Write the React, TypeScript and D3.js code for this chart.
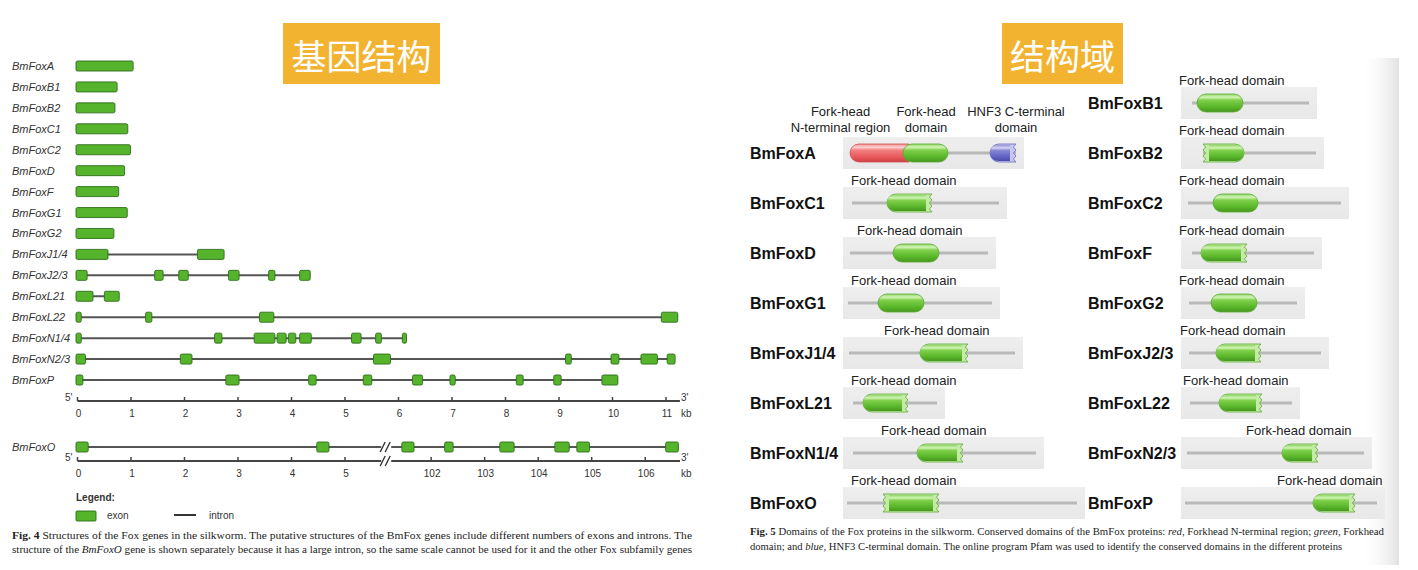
import React from "react";
import * as d3 from "d3";

// ---------------- DATA ----------------
const geneNames = [
  "BmFoxA", "BmFoxB1", "BmFoxB2", "BmFoxC1", "BmFoxC2", "BmFoxD", "BmFoxF", "BmFoxG1",
  "BmFoxG2", "BmFoxJ1/4", "BmFoxJ2/3", "BmFoxL21", "BmFoxL22", "BmFoxN1/4", "BmFoxN2/3", "BmFoxP",
];
// exon [start, end] in kb
const geneExons: [number, number][][] = [
  [[0, 1.04]],
  [[0, 0.74]],
  [[0, 0.7]],
  [[0, 0.94]],
  [[0, 0.99]],
  [[0, 0.88]],
  [[0, 0.77]],
  [[0, 0.93]],
  [[0, 0.68]],
  [[0, 0.57], [2.27, 2.74]],
  [[0, 0.18], [1.47, 1.6], [1.92, 2.07], [2.85, 3.02], [3.6, 3.69], [4.18, 4.35]],
  [[0, 0.29], [0.53, 0.78]],
  [[0, 0.07], [1.3, 1.39], [3.43, 3.67], [10.94, 11.22]],
  [[0, 0.07], [2.59, 2.7], [3.33, 3.69], [3.76, 3.9], [3.97, 4.08], [4.18, 4.37], [5.15, 5.3], [5.6, 5.68], [6.1, 6.15]],
  [[0, 0.15], [1.95, 2.14], [5.56, 5.85], [9.15, 9.23], [10.0, 10.12], [10.56, 10.84], [11.05, 11.17]],
  [[0, 0.1], [2.8, 3.02], [4.35, 4.46], [5.37, 5.5], [6.29, 6.45], [6.99, 7.06], [8.23, 8.33], [8.93, 9.04], [9.83, 10.1]],
];
const kbTicks = d3.range(0, 12);
const kbMax = 11.26;

const foxOExons: [number, number][] = [
  [0, 0.2], [4.5, 4.7], [101.48, 101.68], [102.28, 102.41], [103.31, 103.55], [104.34, 104.58], [104.75, 104.96], [106.41, 106.62],
];
const foxOTicks = [0, 1, 2, 3, 4, 5, 102, 103, 104, 105, 106];
const foxOBreak = [5.77, 101.16];
const foxOMax = 106.65;

type Prot = { name: string; start: number; end: number; fh?: [number, number]; ends?: string };
// lengths in aa (line start/end), Fork-head domain [start,end], ends: r=round j=truncated
const leftProteins: Prot[] = [
  { name: "BmFoxA", start: 21, end: 519 },
  { name: "BmFoxC1", start: 27, end: 468, fh: [132, 267], ends: "rj" },
  { name: "BmFoxD", start: 21, end: 435, fh: [150, 288], ends: "rr" },
  { name: "BmFoxG1", start: 15, end: 447, fh: [105, 243], ends: "rr" },
  { name: "BmFoxJ1/4", start: 18, end: 516, fh: [231, 375], ends: "rj" },
  { name: "BmFoxL21", start: 30, end: 282, fh: [60, 195], ends: "rj" },
  { name: "BmFoxN1/4", start: 30, end: 579, fh: [222, 360], ends: "rj" },
  { name: "BmFoxO", start: 12, end: 702, fh: [120, 288], ends: "jj" },
];
const rightProteins: Prot[] = [
  { name: "BmFoxB1", start: 33, end: 384, fh: [48, 186], ends: "rr" },
  { name: "BmFoxB2", start: 66, end: 405, fh: [66, 189], ends: "jr" },
  { name: "BmFoxC2", start: 21, end: 480, fh: [96, 231], ends: "rr" },
  { name: "BmFoxF", start: 33, end: 399, fh: [60, 198], ends: "rj" },
  { name: "BmFoxG2", start: 24, end: 348, fh: [90, 228], ends: "rr" },
  { name: "BmFoxJ2/3", start: 24, end: 420, fh: [105, 240], ends: "rj" },
  { name: "BmFoxL22", start: 27, end: 333, fh: [114, 243], ends: "rj" },
  { name: "BmFoxN2/3", start: 18, end: 549, fh: [303, 411], ends: "rj" },
  { name: "BmFoxP", start: 12, end: 588, fh: [396, 522], ends: "rj" },
];
// BmFoxA domains
const foxANterm: [number, number] = [21, 180];
const foxAForkhead: [number, number] = [180, 315];
const foxAHNF3: [number, number] = [441, 519];
const foxALabels = [
  ["Fork-head", "N-terminal region"],
  ["Fork-head", "domain"],
  ["HNF3 C-terminal", "domain"],
];

// ---------------- STYLE ----------------
const SANS = "'Liberation Sans', Arial, Helvetica, sans-serif";
const SERIF = "'Liberation Serif', 'Times New Roman', serif";
const CJK = "'Noto Sans CJK SC', sans-serif";
const EXON_FILL = "#55b32c";
const EXON_STROKE = "#2f6e1c";

const W = 1418;
const H = 570;

const xKb = d3.scaleLinear().domain([0, 11]).range([77.5, 666]);
const yGene = d3.scaleLinear().domain([0, geneNames.length - 1]).range([66, 380]);
const xO = d3.scaleLinear().domain([0, foxOBreak[0], foxOBreak[1], foxOMax]).range([77.5, 386.2, 386.2, 680]);
const aa = d3.scaleLinear().domain([0, 3]).range([0, 1]);
const yLeft = d3.scaleLinear().domain([0, leftProteins.length - 1]).range([153, 503]);
const yRight = d3.scaleLinear().domain([0, rightProteins.length - 1]).range([103, 503]);

function shapePath(x0: number, x1: number, yc: number, h: number, le: string, re: string) {
  const r = h / 2, t = yc - r, b = yc + r, n = 6, a = 2.6;
  let p = le === "r" ? `M${x0 + r},${t}` : `M${x0},${t}`;
  if (re === "r") {
    p += `L${x1 - r},${t}A${r},${r} 0 0 1 ${x1 - r},${b}`;
  } else if (re === "j") {
    p += `L${x1},${t}`;
    for (let i = 1; i <= n; i++) p += `L${i % 2 ? x1 - a : x1},${t + (h * i) / n}`;
  } else {
    p += `L${x1},${t}L${x1},${b}`;
  }
  if (le === "r") {
    p += `L${x0 + r},${b}A${r},${r} 0 0 1 ${x0 + r},${t}`;
  } else if (le === "j") {
    p += `L${x0},${b}`;
    for (let i = 1; i <= n; i++) p += `L${i % 2 ? x0 + a : x0},${b - (h * i) / n}`;
  } else {
    p += `L${x0},${b}`;
  }
  return p + "Z";
}

function Domain({ x0, x1, yc, ends, grad, pale, stroke }: { x0: number; x1: number; yc: number; ends: string; grad: string; pale: string; stroke: string }) {
  const h = 18;
  const le = ends[0], re = ends[1];
  const hasJag = le === "j" || re === "j";
  if (!hasJag) {
    return <path d={shapePath(x0, x1, yc, h, le, re)} fill={`url(#${grad})`} stroke={stroke} strokeWidth={0.8} />;
  }
  const ix0 = le === "j" ? x0 + 6 : x0;
  const ix1 = re === "j" ? x1 - 6 : x1;
  return (
    <g>
      <path d={shapePath(x0, x1, yc, h, le, re)} fill={pale} stroke={stroke} strokeWidth={0.8} />
      <path d={shapePath(ix0, ix1, yc, h - 2, le === "j" ? "f" : le, re === "j" ? "f" : re)} fill={`url(#${grad})`} />
    </g>
  );
}

function ProteinRow({ p, yc, base, labelMin }: { p: Prot; yc: number; base: number; labelMin: number }) {
  const xs = base + aa(p.start);
  const xe = base + aa(p.end);
  const boxW = aa(p.end) + 8;
  let label: React.ReactNode = null;
  let dom: React.ReactNode = null;
  if (p.fh) {
    const d0 = base + aa(p.fh[0]);
    const d1 = base + aa(p.fh[1]);
    const lw = 106;
    let lx = d0 - 36;
    lx = Math.max(labelMin, Math.min(lx, base + boxW - lw));
    label = (
      <text x={lx} y={yc - 18.5} fontFamily={SANS} fontSize={13} fill="#222">Fork-head domain</text>
    );
    dom = <Domain x0={d0} x1={d1} yc={yc} ends={p.ends || "rr"} grad="gGreen" pale="#c4eaa6" stroke="#5aa932" />;
  }
  return (
    <g>
      <rect x={base} y={yc - 16} width={boxW} height={32} fill="url(#gBox)" />
      <line x1={xs} x2={xe} y1={yc} y2={yc} stroke="#b9b9b9" strokeWidth={3} />
      {dom}
      {label}
    </g>
  );
}

export default function App() {
  const leftBase = 843;
  const rightBase = 1181;
  const foxAy = yLeft(0);
  const mid = (r: [number, number]) => leftBase + aa((r[0] + r[1]) / 2);
  const foxALabelX = [mid(foxANterm) - 36, mid(foxAForkhead) + 0.5, mid(foxAHNF3) + 13];
  return (
    <svg width={W} height={H} style={{ position: "absolute", left: 0, top: 0, background: "#fff" }}>
      <defs>
        <linearGradient id="gGreen" x1="0" y1="0" x2="0" y2="1">
          <stop offset="0" stopColor="#8fd865" />
          <stop offset="0.18" stopColor="#d2f4b6" />
          <stop offset="0.34" stopColor="#80d04c" />
          <stop offset="0.7" stopColor="#5cb82b" />
          <stop offset="1" stopColor="#46981f" />
        </linearGradient>
        <linearGradient id="gRed" x1="0" y1="0" x2="0" y2="1">
          <stop offset="0" stopColor="#ef8b8b" />
          <stop offset="0.18" stopColor="#ffd2d2" />
          <stop offset="0.34" stopColor="#f28080" />
          <stop offset="0.7" stopColor="#e85a5e" />
          <stop offset="1" stopColor="#d04046" />
        </linearGradient>
        <linearGradient id="gBlue" x1="0" y1="0" x2="0" y2="1">
          <stop offset="0" stopColor="#9393d8" />
          <stop offset="0.18" stopColor="#d6d6f6" />
          <stop offset="0.34" stopColor="#8787d6" />
          <stop offset="0.7" stopColor="#6464c4" />
          <stop offset="1" stopColor="#4c4cae" />
        </linearGradient>
        <linearGradient id="gBox" x1="0" y1="0" x2="0" y2="1">
          <stop offset="0" stopColor="#eeeeee" />
          <stop offset="1" stopColor="#e8e8e8" />
        </linearGradient>
        <linearGradient id="gEdge" x1="0" y1="0" x2="1" y2="0">
          <stop offset="0" stopColor="#ffffff" stopOpacity={0} />
          <stop offset="1" stopColor="#e2e2e2" />
        </linearGradient>
      </defs>

      {/* page edge shade on right */}
      <rect x={1360} y={58} width={39} height={507} fill="url(#gEdge)" />

      {/* Titles */}
      <rect x={283} y={23} width={157} height={61} fill="#f2b330" />
      <text x={361.5} y={54} textAnchor="middle" dominantBaseline="central" fontFamily={CJK} fontSize={35} fill="#fff">基因结构</text>
      <rect x={1002} y={23} width={121} height={61} fill="#f2b330" />
      <text x={1062.5} y={54} textAnchor="middle" dominantBaseline="central" fontFamily={CJK} fontSize={35} fill="#fff">结构域</text>

      {/* ---------- Gene structures ---------- */}
      {geneNames.map((name, i) => {
        const y = yGene(i);
        const ex = geneExons[i];
        return (
          <g key={name}>
            <text x={12} y={y + 4} fontFamily={SANS} fontStyle="italic" fontSize={11} fill="#333">{name}</text>
            {ex.length > 1 && (
              <line x1={xKb(ex[0][0])} x2={xKb(ex[ex.length - 1][1])} y1={y} y2={y} stroke="#555" strokeWidth={2} />
            )}
            {ex.map((e, j) => (
              <rect key={j} x={xKb(e[0]) - 1.5} y={y - 5} width={Math.max(3, xKb(e[1]) - xKb(e[0]) + 1.5)} height={10} rx={1.5}
                fill={EXON_FILL} stroke={EXON_STROKE} strokeWidth={0.9} />
            ))}
          </g>
        );
      })}

      {/* main kb axis */}
      <g>
        <line x1={xKb(0)} x2={xKb(kbMax)} y1={401} y2={401} stroke="#444" strokeWidth={2} />
        {kbTicks.map((t) => (
          <g key={t}>
            <line x1={xKb(t)} x2={xKb(t)} y1={397} y2={401} stroke="#444" strokeWidth={1.5} />
            <text x={xKb(t) + 1} y={417} textAnchor="middle" fontFamily={SANS} fontSize={10} fill="#333">{t}</text>
          </g>
        ))}
        <text x={65} y={401} fontFamily={SANS} fontSize={10} fill="#333">5'</text>
        <text x={681} y={401} fontFamily={SANS} fontSize={10} fill="#333">3'</text>
        <text x={681} y={417} fontFamily={SANS} fontSize={10} fill="#333">kb</text>
      </g>

      {/* BmFoxO */}
      <g>
        <text x={12} y={451} fontFamily={SANS} fontStyle="italic" fontSize={11} fill="#333">BmFoxO</text>
        <line x1={xO(foxOExons[0][0])} x2={xO(foxOExons[foxOExons.length - 1][1])} y1={447} y2={447} stroke="#555" strokeWidth={2} />
        <line x1={xO(0)} x2={xO(foxOMax)} y1={461} y2={461} stroke="#444" strokeWidth={2} />
        {[447, 461].map((yy) => (
          <g key={yy}>
            <rect x={xO(foxOBreak[0]) - 5} y={yy - 3} width={10} height={6} fill="#fff" />
            <line x1={xO(foxOBreak[0]) - 6} x2={xO(foxOBreak[0]) - 1} y1={yy + 5} y2={yy - 5} stroke="#333" strokeWidth={1.4} />
            <line x1={xO(foxOBreak[0]) - 1} x2={xO(foxOBreak[0]) + 4} y1={yy + 5} y2={yy - 5} stroke="#333" strokeWidth={1.4} />
          </g>
        ))}
        {foxOExons.map((e, j) => (
          <rect key={j} x={xO(e[0]) - 1.5} y={442} width={xO(e[1]) - xO(e[0]) + 1.5} height={10} rx={1.5}
            fill={EXON_FILL} stroke={EXON_STROKE} strokeWidth={0.9} />
        ))}
        {foxOTicks.map((t) => (
          <g key={t}>
            <line x1={xO(t)} x2={xO(t)} y1={457} y2={461} stroke="#444" strokeWidth={1.5} />
            <text x={xO(t) + 1} y={477} textAnchor="middle" fontFamily={SANS} fontSize={10} fill="#333">{t}</text>
          </g>
        ))}
        <text x={65} y={461} fontFamily={SANS} fontSize={10} fill="#333">5'</text>
        <text x={681} y={461} fontFamily={SANS} fontSize={10} fill="#333">3'</text>
        <text x={681} y={477} fontFamily={SANS} fontSize={10} fill="#333">kb</text>
      </g>

      {/* Legend */}
      <g>
        <text x={76} y={501} fontFamily={SANS} fontWeight="bold" fontSize={10} fill="#333">Legend:</text>
        <rect x={76} y={511} width={20} height={10} rx={1} fill={EXON_FILL} stroke={EXON_STROKE} strokeWidth={0.9} />
        <text x={107} y={519} fontFamily={SANS} fontSize={10} fill="#333">exon</text>
        <line x1={174} x2={196} y1={515} y2={515} stroke="#333" strokeWidth={2} />
        <text x={209} y={519} fontFamily={SANS} fontSize={10} fill="#333">intron</text>
      </g>

      {/* Caption Fig. 4 */}
      <text x={12} y={539} fontFamily={SERIF} fontSize={10.6} fill="#222" textLength={680} lengthAdjust="spacingAndGlyphs">
        <tspan fontWeight="bold">Fig. 4</tspan> Structures of the Fox genes in the silkworm. The putative structures of the BmFox genes include different numbers of exons and introns. The
      </text>
      <text x={12} y={553} fontFamily={SERIF} fontSize={10.6} fill="#222" textLength={680} lengthAdjust="spacingAndGlyphs">
        structure of the <tspan fontStyle="italic">BmFoxO</tspan> gene is shown separately because it has a large intron, so the same scale cannot be used for it and the other Fox subfamily genes
      </text>

      {/* ---------- Protein domains ---------- */}
      {leftProteins.map((p, i) => (
        <g key={p.name}>
          <text x={750} y={yLeft(i) + 5.5} fontFamily={SANS} fontWeight="bold" fontSize={16} fill="#111">{p.name}</text>
          <ProteinRow p={p} yc={yLeft(i)} base={leftBase} labelMin={leftBase + 8} />
        </g>
      ))}
      {rightProteins.map((p, i) => (
        <g key={p.name}>
          <text x={1088} y={yRight(i) + 5.5} fontFamily={SANS} fontWeight="bold" fontSize={16} fill="#111">{p.name}</text>
          <ProteinRow p={p} yc={yRight(i)} base={rightBase} labelMin={rightBase - 2} />
        </g>
      ))}

      {/* BmFoxA domains */}
      <g>
        <Domain x0={leftBase + aa(foxAHNF3[0])} x1={leftBase + aa(foxAHNF3[1])} yc={foxAy} ends="rj" grad="gBlue" pale="#c8c8ee" stroke="#6a6ac0" />
        <Domain x0={leftBase + aa(foxANterm[0])} x1={leftBase + aa(foxANterm[1]) + 6} yc={foxAy} ends="rf" grad="gRed" pale="#f5c0c0" stroke="#d05050" />
        <Domain x0={leftBase + aa(foxAForkhead[0])} x1={leftBase + aa(foxAForkhead[1])} yc={foxAy} ends="rr" grad="gGreen" pale="#c4eaa6" stroke="#5aa932" />
        {foxALabels.map((l, k) => (
          <g key={k}>
            <text x={foxALabelX[k]} y={115.5} textAnchor="middle" fontFamily={SANS} fontSize={13} fill="#222">{l[0]}</text>
            <text x={foxALabelX[k]} y={131.5} textAnchor="middle" fontFamily={SANS} fontSize={13} fill="#222">{l[1]}</text>
          </g>
        ))}
      </g>

      {/* Caption Fig. 5 */}
      <text x={750} y={535} fontFamily={SERIF} fontSize={10.6} fill="#222" textLength={634} lengthAdjust="spacingAndGlyphs">
        <tspan fontWeight="bold">Fig. 5</tspan> Domains of the Fox proteins in the silkworm. Conserved domains of the BmFox proteins: <tspan fontStyle="italic">red</tspan>, Forkhead N-terminal region; <tspan fontStyle="italic">green</tspan>, Forkhead
      </text>
      <text x={750} y={550} fontFamily={SERIF} fontSize={10.6} fill="#222">
        domain; and <tspan fontStyle="italic">blue</tspan>, HNF3 C-terminal domain. The online program Pfam was used to identify the conserved domains in the different proteins
      </text>
    </svg>
  );
}
